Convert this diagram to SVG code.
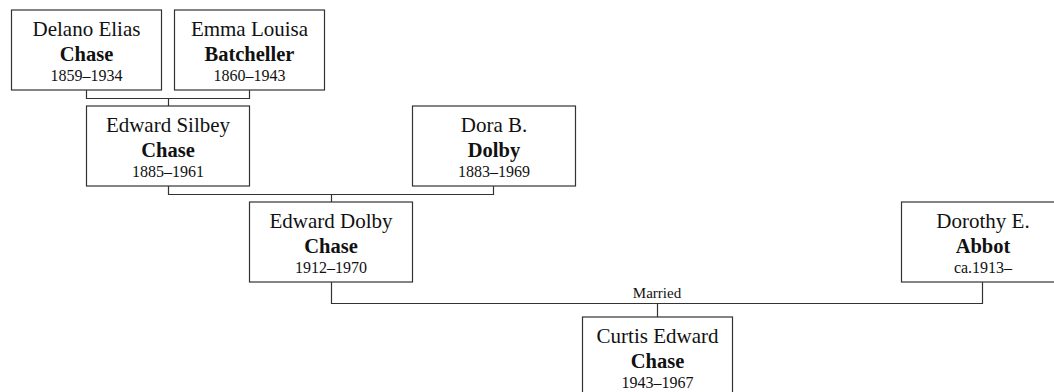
<svg xmlns="http://www.w3.org/2000/svg" width="1054" height="392" viewBox="0 0 1054 392">
<style>
rect.box{fill:#fff;stroke:#333;stroke-width:1.2}
.lines path{fill:none;stroke:#333;stroke-width:1.2}
text{font-family:"Liberation Serif","Times New Roman",serif;fill:#111;text-anchor:middle}
.n{font-size:21px}
.s{font-size:20.5px;font-weight:bold}
.d{font-size:16px}
.lbl{font-size:15px}
</style>
<rect width="1054" height="392" fill="#fff"/>
<g class="lines" id="connectors">
<path d="M86.5,90 V98.5 H249.5 V90"/>
<path d="M168.5,98.5 V106"/>
<path d="M168.5,186 V194.5 H493.5 V186"/>
<path d="M331.5,194.5 V202"/>
<path d="M331.5,282 V303.5 H982.5 V282"/>
<path d="M657.5,303.5 V317"/>
<text class="lbl" x="657" y="298.3">Married</text>
</g>
<g id="delano">
<rect class="box" x="11.5" y="10" width="150" height="80"/>
<text class="n" x="86.5" y="36.3">Delano Elias</text>
<text class="s" x="86.5" y="61.3">Chase</text>
<text class="d" x="86.5" y="80.7">1859–1934</text>
</g>
<g id="emma">
<rect class="box" x="174.5" y="10" width="150" height="80"/>
<text class="n" x="249.5" y="36.3">Emma Louisa</text>
<text class="s" x="249.5" y="61.3">Batcheller</text>
<text class="d" x="249.5" y="80.7">1860–1943</text>
</g>
<g id="silbey">
<rect class="box" x="86.5" y="106" width="163" height="80"/>
<text class="n" x="168" y="132.3">Edward Silbey</text>
<text class="s" x="168" y="157.3">Chase</text>
<text class="d" x="168" y="176.7">1885–1961</text>
</g>
<g id="dora">
<rect class="box" x="412.5" y="106" width="163" height="80"/>
<text class="n" x="494" y="132.3">Dora B.</text>
<text class="s" x="494" y="157.3">Dolby</text>
<text class="d" x="494" y="176.7">1883–1969</text>
</g>
<g id="dolby">
<rect class="box" x="249.5" y="202" width="163" height="80"/>
<text class="n" x="331" y="228.3">Edward Dolby</text>
<text class="s" x="331" y="253.3">Chase</text>
<text class="d" x="331" y="272.7">1912–1970</text>
</g>
<g id="dorothy">
<rect class="box" x="901.5" y="202" width="163" height="80"/>
<text class="n" x="983" y="228.3">Dorothy E.</text>
<text class="s" x="983" y="253.3">Abbot</text>
<text class="d" x="983" y="272.7">ca.1913–</text>
</g>
<g id="curtis">
<rect class="box" x="582.5" y="317" width="150" height="80"/>
<text class="n" x="657.5" y="343.3">Curtis Edward</text>
<text class="s" x="657.5" y="368.3">Chase</text>
<text class="d" x="657.5" y="387.7">1943–1967</text>
</g>
</svg>
